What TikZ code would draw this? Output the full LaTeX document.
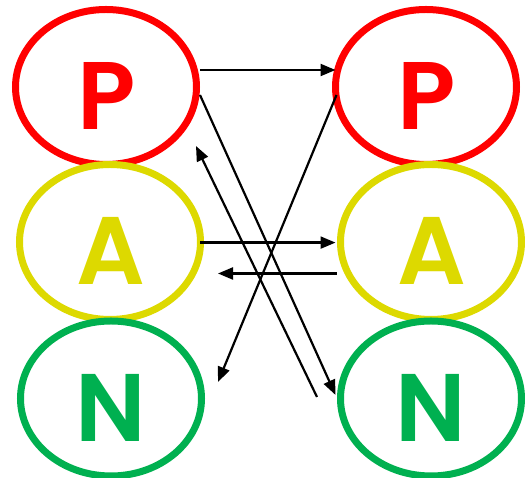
\documentclass[tikz,border=0pt]{standalone}
\usepackage{fontspec}
\setmainfont{Poppins}[BoldFont={Poppins SemiBold}]
\usetikzlibrary{shapes.geometric,arrows.meta,calc}
\definecolor{cred}{HTML}{FF0000}
\definecolor{cyel}{HTML}{DDD900}
\definecolor{cgrn}{HTML}{00B050}
\begin{document}
\begin{tikzpicture}[x=1pt,y=1pt,
  ring/.style={ellipse,draw,line width=7pt,minimum width=181pt,minimum height=155pt,inner sep=0pt},
  letter/.style={inner sep=0pt,font=\fontsize{96}{96}\selectfont\bfseries},
  conn/.style={line width=2.2pt,-{Triangle[length=15pt,width=12pt]}}]
\useasboundingbox (0,0) rectangle (525,478);
% rings (P, then A, then N so that lower ones lie on top)
\node[ring,draw=cred] (lP) at (106,391) {};
\node[ring,draw=cred] (rP) at (426,391) {};
\node[ring,draw=cyel] (lA) at (110,236) {};
\node[ring,draw=cyel] (rA) at (431,236) {};
\node[ring,draw=cgrn] (lN) at (111,79.5) {};
\node[ring,draw=cgrn] (rN) at (431,79.5) {};
% letters
\node[letter,text=cred] (tlP) at ($(lP.center)+(1,-9)$) {P};
\node[letter,text=cred] (trP) at ($(rP.center)+(1,-9)$) {P};
\node[letter,text=cyel] (tlA) at ($(lA.center)+(1,-9)$) {A};
\node[letter,text=cyel] (trA) at ($(rA.center)+(1,-9)$) {A};
\node[letter,text=cgrn] (tlN) at ($(lN.center)+(0,-9)$) {N};
\node[letter,text=cgrn] (trN) at ($(rN.center)+(0,-9)$) {N};
% connectors
\draw[conn] ($(lP.center)+(94,17)$) -- ($(rP.center)+(-90.5,17)$);
\draw[conn] ($(lP.center)+(94,-8)$) -- ($(rN.center)+(-95.5,3.5)$);
\draw[conn] ($(rP.center)+(-89.5,-8)$) -- ($(lN.center)+(107,16.5)$);
\draw[conn] ($(rN.center)+(-114,1.5)$) -- ($(lP.center)+(90,-59)$);
\draw[conn] ($(lA.center)+(90,-0.6)$) -- ($(rA.center)+(-95.5,-0.6)$);
\draw[conn] ($(rA.center)+(-94.5,-31.5)$) -- ($(lA.center)+(108,-31.5)$);
\end{tikzpicture}
\end{document}
